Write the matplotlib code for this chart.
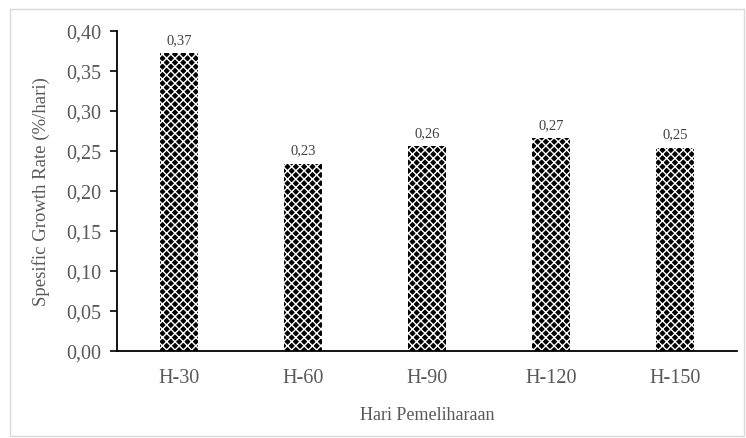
import matplotlib.pyplot as plt
from matplotlib.patches import Rectangle

kategori = ['H-30', 'H-60', 'H-90', 'H-120', 'H-150']
sgr = [0.372, 0.234, 0.256, 0.266, 0.254]
label_nilai = ['0,37', '0,23', '0,26', '0,27', '0,25']
yticks = [0.0, 0.05, 0.10, 0.15, 0.20, 0.25, 0.30, 0.35, 0.40]

plt.rcParams['font.family'] = ['Liberation Serif', 'DejaVu Serif']
plt.rcParams['hatch.linewidth'] = 1.0
abu = '#595959'

fig = plt.figure(figsize=(7.46, 4.39), dpi=100)
ax = fig.add_axes([117/746, 1 - 352/439, 620/746, 320/439])

x = range(len(kategori))
bars = ax.bar(x, sgr, width=0.31, color='black', edgecolor='white',
              hatch='xxxx', linewidth=0)
for i, b in enumerate(bars):
    ax.text(b.get_x() + b.get_width()/2, b.get_height() + 0.009, label_nilai[i],
            ha='center', va='bottom', fontsize=10.5, color='#404040')

ax.set_xlim(-0.5, 4.5)
ax.set_ylim(0, 0.40)
ax.set_yticks(yticks)
ax.set_yticklabels([f'{v:.2f}'.replace('.', ',') for v in yticks])
ax.set_xticks(list(x))
ax.set_xticklabels(kategori)
ax.tick_params(axis='y', labelsize=14.5, colors='black', labelcolor=abu, length=5, width=1.2, pad=6)
ax.tick_params(axis='x', labelsize=14.5, labelcolor=abu, length=0, pad=12)
for s in ['top', 'right']:
    ax.spines[s].set_visible(False)
ax.spines['left'].set_linewidth(1.3)
ax.spines['bottom'].set_linewidth(1.3)
ax.set_ylabel('Spesific Growth Rate (%/hari)', fontsize=13.5, color=abu, labelpad=12)
ax.set_xlabel('Hari Pemeliharaan', fontsize=13, color=abu, labelpad=14)

fig.patches.append(Rectangle((10/746, 2/439), 734/746, 427/439, transform=fig.transFigure,
                             fill=False, edgecolor='#d9d9d9', linewidth=1))

plt.savefig('out.png', dpi=100)
